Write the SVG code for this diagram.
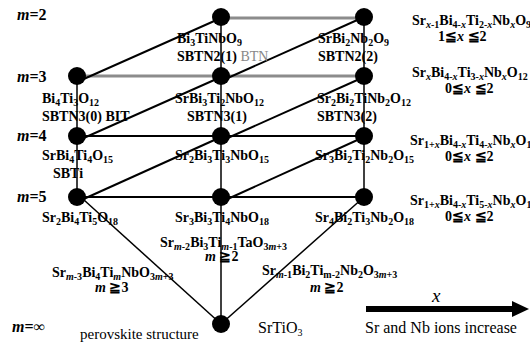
<svg xmlns="http://www.w3.org/2000/svg" width="530" height="352" viewBox="0 0 530 352" font-family="'Liberation Serif', 'DejaVu Serif', serif">
<style>
text{font-family:'Liberation Serif','DejaVu Serif',serif;fill:#000}
.b{font-size:14px;font-weight:bold}
.s{font-size:10px}
.i{font-style:italic}
.m{font-size:16px;font-weight:bold}
.r{font-size:16px}
.g{fill:#888;font-weight:normal}
.ln{stroke:#000;stroke-width:2;fill:none}
.v{stroke:#000;stroke-width:1.5;fill:none}
.gr{stroke:#8c8c8c;stroke-width:3;fill:none}
.n{fill:#000}
</style>
<rect width="530" height="352" fill="#fff"/>
<g id="connectors">
<line class="gr" x1="221" y1="18" x2="364" y2="18"/>
<line class="gr" x1="77" y1="76" x2="364" y2="76"/>
<line class="ln" x1="77" y1="136" x2="364" y2="136"/>
<line class="ln" x1="77" y1="197" x2="364" y2="197"/>
<line class="v" x1="77" y1="76" x2="77" y2="197"/>
<line class="v" x1="221" y1="17" x2="221" y2="324"/>
<line class="v" x1="364" y1="17" x2="364" y2="197"/>
<line class="ln" x1="77" y1="82" x2="221" y2="18"/>
<line class="ln" x1="221" y1="81" x2="364" y2="17"/>
<line class="ln" x1="77" y1="141" x2="221" y2="77"/>
<line class="ln" x1="221" y1="141" x2="364" y2="77"/>
<line class="ln" x1="77" y1="202" x2="221" y2="137"/>
<line class="ln" x1="221" y1="202" x2="364" y2="137"/>
<line class="v" x1="84" y1="200" x2="221" y2="324"/>
<line class="v" x1="364" y1="197" x2="221" y2="324"/>
</g>
<g id="n-m2-1"><circle class="n" cx="221" cy="17" r="9"/></g>
<g id="n-m2-2"><circle class="n" cx="364" cy="17" r="9"/></g>
<g id="n-m3-0"><circle class="n" cx="77" cy="76" r="9"/></g>
<g id="n-m3-1"><circle class="n" cx="221" cy="76" r="9"/></g>
<g id="n-m3-2"><circle class="n" cx="364" cy="76" r="9"/></g>
<g id="n-m4-0"><circle class="n" cx="77" cy="136" r="9"/></g>
<g id="n-m4-1"><circle class="n" cx="221" cy="136" r="9"/></g>
<g id="n-m4-2"><circle class="n" cx="364" cy="136" r="9"/></g>
<g id="n-m5-0"><circle class="n" cx="77" cy="197" r="9"/></g>
<g id="n-m5-1"><circle class="n" cx="221" cy="197" r="9"/></g>
<g id="n-m5-2"><circle class="n" cx="364" cy="197" r="9"/></g>
<g id="n-srtio3"><circle class="n" cx="221" cy="324" r="9"/></g>
<g id="arrow">
<line x1="366" y1="309" x2="516" y2="309" stroke="#000" stroke-width="6"/>
<polygon points="512,301 529,309 512,317" fill="#000"/>
</g>
<g id="row-labels">
<text class="m" x="17" y="20"><tspan class="i">m</tspan>=2</text>
<text class="m" x="17" y="82"><tspan class="i">m</tspan>=3</text>
<text class="m" x="17" y="141"><tspan class="i">m</tspan>=4</text>
<text class="m" x="17" y="202"><tspan class="i">m</tspan>=5</text>
<text class="m" x="12" y="332"><tspan class="i">m</tspan>=∞</text>
</g>
<g id="labels">
<text class="b" x="177" y="43">Bi<tspan class="s" dy="3">3</tspan><tspan dy="-3">TiNbO</tspan><tspan class="s" dy="3">9</tspan></text>
<text class="b" x="177" y="61">SBTN2(1) <tspan class="g">BTN</tspan></text>
<text class="b" x="318" y="43">SrBi<tspan class="s" dy="3">2</tspan><tspan dy="-3">Nb</tspan><tspan class="s" dy="3">2</tspan><tspan dy="-3">O</tspan><tspan class="s" dy="3">9</tspan></text>
<text class="b" x="318" y="61">SBTN2(2)</text>
<text class="b" x="42" y="103">Bi<tspan class="s" dy="3">4</tspan><tspan dy="-3">Ti</tspan><tspan class="s" dy="3">3</tspan><tspan dy="-3">O</tspan><tspan class="s" dy="3">12</tspan></text>
<text class="b" x="42" y="121">SBTN3(0) BIT</text>
<text class="b" x="175" y="103">SrBi<tspan class="s" dy="3">3</tspan><tspan dy="-3">Ti</tspan><tspan class="s" dy="3">2</tspan><tspan dy="-3">NbO</tspan><tspan class="s" dy="3">12</tspan></text>
<text class="b" x="187" y="121">SBTN3(1)</text>
<text class="b" x="317" y="103">Sr<tspan class="s" dy="3">2</tspan><tspan dy="-3">Bi</tspan><tspan class="s" dy="3">2</tspan><tspan dy="-3">TiNb</tspan><tspan class="s" dy="3">2</tspan><tspan dy="-3">O</tspan><tspan class="s" dy="3">12</tspan></text>
<text class="b" x="317" y="121">SBTN3(2)</text>
<text class="b" x="42" y="160">SrBi<tspan class="s" dy="3">4</tspan><tspan dy="-3">Ti</tspan><tspan class="s" dy="3">4</tspan><tspan dy="-3">O</tspan><tspan class="s" dy="3">15</tspan></text>
<text class="b" x="53" y="178">SBTi</text>
<text class="b" x="175" y="160">Sr<tspan class="s" dy="3">2</tspan><tspan dy="-3">Bi</tspan><tspan class="s" dy="3">3</tspan><tspan dy="-3">Ti</tspan><tspan class="s" dy="3">3</tspan><tspan dy="-3">NbO</tspan><tspan class="s" dy="3">15</tspan></text>
<text class="b" x="315" y="160">Sr<tspan class="s" dy="3">3</tspan><tspan dy="-3">Bi</tspan><tspan class="s" dy="3">2</tspan><tspan dy="-3">Ti</tspan><tspan class="s" dy="3">2</tspan><tspan dy="-3">Nb</tspan><tspan class="s" dy="3">2</tspan><tspan dy="-3">O</tspan><tspan class="s" dy="3">15</tspan></text>
<text class="b" x="42" y="222">Sr<tspan class="s" dy="3">2</tspan><tspan dy="-3">Bi</tspan><tspan class="s" dy="3">4</tspan><tspan dy="-3">Ti</tspan><tspan class="s" dy="3">5</tspan><tspan dy="-3">O</tspan><tspan class="s" dy="3">18</tspan></text>
<text class="b" x="175" y="222">Sr<tspan class="s" dy="3">3</tspan><tspan dy="-3">Bi</tspan><tspan class="s" dy="3">3</tspan><tspan dy="-3">Ti</tspan><tspan class="s" dy="3">4</tspan><tspan dy="-3">NbO</tspan><tspan class="s" dy="3">18</tspan></text>
<text class="b" x="315" y="222">Sr<tspan class="s" dy="3">4</tspan><tspan dy="-3">Bi</tspan><tspan class="s" dy="3">2</tspan><tspan dy="-3">Ti</tspan><tspan class="s" dy="3">3</tspan><tspan dy="-3">Nb</tspan><tspan class="s" dy="3">2</tspan><tspan dy="-3">O</tspan><tspan class="s" dy="3">18</tspan></text>
<text class="b" x="160" y="247">Sr<tspan class="s" dy="3"><tspan class="i">m</tspan>-2</tspan><tspan dy="-3">Bi</tspan><tspan class="s" dy="3">3</tspan><tspan dy="-3">Ti</tspan><tspan class="s" dy="3"><tspan class="i">m</tspan>-1</tspan><tspan dy="-3">TaO</tspan><tspan class="s" dy="3">3<tspan class="i">m</tspan>+3</tspan></text>
<text class="b" x="205" y="261"><tspan class="i">m</tspan> ≧2</text>
<text class="b" x="52" y="277">Sr<tspan class="s" dy="3"><tspan class="i">m</tspan>-3</tspan><tspan dy="-3">Bi</tspan><tspan class="s" dy="3">4</tspan><tspan dy="-3">Ti</tspan><tspan class="s" dy="3" font-style="italic">m</tspan><tspan dy="-3">NbO</tspan><tspan class="s" dy="3">3<tspan class="i">m</tspan>+3</tspan></text>
<text class="b" x="95" y="292"><tspan class="i">m</tspan> ≧3</text>
<text class="b" x="262" y="275">Sr<tspan class="s" dy="3"><tspan class="i">m</tspan>-1</tspan><tspan dy="-3">Bi</tspan><tspan class="s" dy="3">2</tspan><tspan dy="-3">Ti</tspan><tspan class="s" dy="3">m-2</tspan><tspan dy="-3">Nb</tspan><tspan class="s" dy="3">2</tspan><tspan dy="-3">O</tspan><tspan class="s" dy="3">3<tspan class="i">m</tspan>+3</tspan></text>
<text class="b" x="310" y="292"><tspan class="i">m</tspan> ≧2</text>
<text x="80" y="339" font-size="15">perovskite structure</text>
<text class="r" x="258" y="333">SrTiO<tspan class="s" dy="3" font-size="11">3</tspan></text>
<text x="432" y="302" font-size="19" font-style="italic">x</text>
<text class="r" x="365" y="333">Sr and Nb ions increase</text>
</g>
<g id="series">
<text class="b" x="412" y="25">Sr<tspan class="s" dy="3"><tspan class="i">x</tspan>-1</tspan><tspan dy="-3">Bi</tspan><tspan class="s" dy="3">4-<tspan class="i">x</tspan></tspan><tspan dy="-3">Ti</tspan><tspan class="s" dy="3">2-<tspan class="i">x</tspan></tspan><tspan dy="-3">Nb</tspan><tspan class="s" dy="3" font-style="italic">x</tspan><tspan dy="-3">O</tspan><tspan class="s" dy="3">9</tspan></text>
<text class="b" x="438" y="41">1≦<tspan class="i">x</tspan> ≦2</text>
<text class="b" x="412" y="77">Sr<tspan class="s" dy="3" font-style="italic">x</tspan><tspan dy="-3">Bi</tspan><tspan class="s" dy="3">4-<tspan class="i">x</tspan></tspan><tspan dy="-3">Ti</tspan><tspan class="s" dy="3">3-<tspan class="i">x</tspan></tspan><tspan dy="-3">Nb</tspan><tspan class="s" dy="3" font-style="italic">x</tspan><tspan dy="-3">O</tspan><tspan class="s" dy="3">12</tspan></text>
<text class="b" x="445" y="93">0≦<tspan class="i">x</tspan> ≦2</text>
<text class="b" x="410" y="145">Sr<tspan class="s" dy="3">1+<tspan class="i">x</tspan></tspan><tspan dy="-3">Bi</tspan><tspan class="s" dy="3">4-<tspan class="i">x</tspan></tspan><tspan dy="-3">Ti</tspan><tspan class="s" dy="3">4-<tspan class="i">x</tspan></tspan><tspan dy="-3">Nb</tspan><tspan class="s" dy="3" font-style="italic">x</tspan><tspan dy="-3">O</tspan><tspan class="s" dy="3">15</tspan></text>
<text class="b" x="445" y="161">0≦<tspan class="i">x</tspan> ≦2</text>
<text class="b" x="410" y="205">Sr<tspan class="s" dy="3">1+<tspan class="i">x</tspan></tspan><tspan dy="-3">Bi</tspan><tspan class="s" dy="3">4-<tspan class="i">x</tspan></tspan><tspan dy="-3">Ti</tspan><tspan class="s" dy="3">5-<tspan class="i">x</tspan></tspan><tspan dy="-3">Nb</tspan><tspan class="s" dy="3" font-style="italic">x</tspan><tspan dy="-3">O</tspan><tspan class="s" dy="3">18</tspan></text>
<text class="b" x="445" y="221">0≦<tspan class="i">x</tspan> ≦2</text>
</g>
</svg>
